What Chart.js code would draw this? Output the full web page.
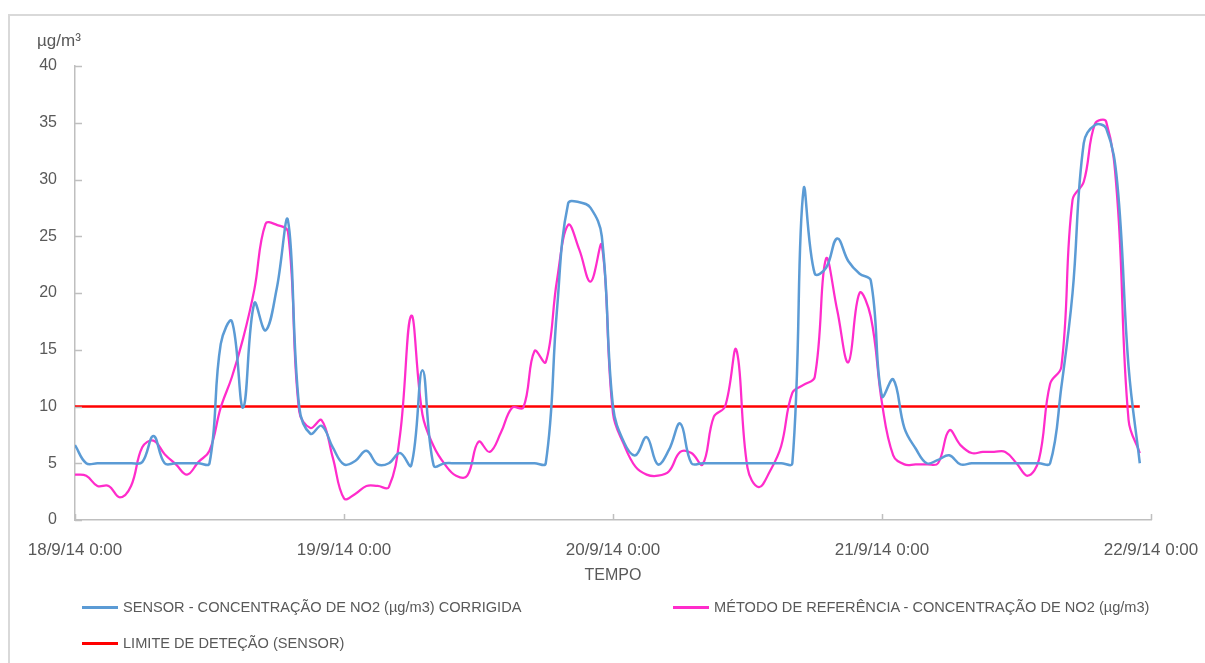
<!DOCTYPE html>
<html>
<head>
<meta charset="utf-8">
<script src="https://cdn.jsdelivr.net/npm/chart.js@4.4.1/dist/chart.umd.min.js"></script>
<style>
  html, body { margin: 0; padding: 0; background: #fff; overflow: hidden; }
  body { width: 1205px; height: 663px; position: relative; font-family: 'Liberation Sans', Arial, sans-serif; color: #595959; }
  #frame { position: absolute; left: 8px; top: 14px; width: 1220px; height: 680px; border: 2px solid #d9d9d9; box-sizing: border-box; }
  #chart { position: absolute; left: 0; top: 0; }
  #unit { position: absolute; left: 37px; top: 31px; font-size: 17px; }
  .leg { position: absolute; font-size: 14.6px; white-space: nowrap; }
  .leg span.ln { display: inline-block; width: 36px; height: 0; border-top: 3px solid; vertical-align: middle; margin-right: 5px; position: relative; top: -1px; }
</style>
</head>
<body>
<div id="frame"></div>
<canvas id="chart" width="1205" height="663"></canvas>
<div id="unit">µg/m³</div>
<div id="legend"></div>
<script>
    // etiquetas do eixo X (um por dia, dados horários)
    const dayLabels = ['18/9/14 0:00', '19/9/14 0:00', '20/9/14 0:00', '21/9/14 0:00', '22/9/14 0:00'];

    // sensor NO2 corrigido (µg/m3), 18/9 0h ... 21/9 23h
    const sensorValues = [
        6.6, 5, 5, 5, 5, 5, 5.1, 7.4, 5, 5, 5, 5, 5, 15.5, 17.5, 9.9, 19.1, 16.7, 20.4, 26.4, 10, 7.6, 8.3, 6.4,
        4.9, 5.2, 6.1, 4.9, 5, 5.9, 4.8, 13.2, 4.8, 5, 5, 5, 5, 5, 5, 5, 5, 5, 5, 18.5, 27.9, 28, 27.5, 25,
        10, 6.8, 5.7, 7.3, 4.9, 6.2, 8.5, 5, 5, 5, 5, 5, 5, 5, 5, 5, 5, 29.1, 21.7, 22.2, 24.8, 22.8, 21.7, 21.1,
        10.9, 12.4, 8.1, 6.3, 5, 5.3, 5.7, 4.9, 5, 5, 5, 5, 5, 5, 5, 5, 11.7, 20, 33.2, 34.8, 34.5, 29.6, 13.5, 5
    ];

    // método de referência NO2 (µg/m3)
    const referenceValues = [
        4, 3.9, 3, 3, 2, 3, 6.4, 7, 5.8, 4.9, 4, 5.1, 6.1, 9.9, 12.6, 16, 20.3, 26.1, 26, 25.4, 9.6, 8.1, 8.8, 5.5,
        1.9, 2.3, 3, 3, 2.9, 7.5, 18, 9.3, 6.5, 4.9, 3.9, 3.9, 6.9, 6, 7.7, 9.9, 9.9, 14.9, 13.9, 21.1, 26, 23.8, 21, 24.2,
        9.4, 6.6, 4.7, 4, 3.9, 4.3, 6, 5.9, 4.9, 9.1, 10, 15, 4.6, 2.9, 4.3, 6.5, 11.2, 11.9, 12.6, 23, 18.5, 13.9, 20, 17.9,
        10.3, 5.7, 4.9, 4.9, 4.9, 5, 7.9, 6.6, 5.9, 6, 6, 6, 5, 3.9, 5.3, 12, 13.5, 28.2, 29.8, 34.9, 35.1, 28.2, 8.8, 5.9
    ];

    // limite de deteção do sensor
    const detectionLimit = 10;

    const seriesLabels = [
        'SENSOR - CONCENTRAÇÃO DE NO2 (µg/m3) CORRIGIDA',
        'MÉTODO DE REFERÊNCIA  - CONCENTRAÇÃO DE NO2 (µg/m3)',
        'LIMITE DE DETEÇÃO (SENSOR)'
    ];

    const yTicks = [0, 5, 10, 15, 20, 25, 30, 35, 40];

    const toPoints = arr => arr.map((v, i) => ({ x: i, y: v }));
    const limitValues = sensorValues.map(() => detectionLimit);

    // marcas de escala para dentro (estilo Excel)
    const insideTicks = {
        id: 'insideTicks',
        afterDraw(chart) {
            const ctx = chart.ctx;
            const xs = chart.scales.x, ys = chart.scales.y;
            const area = chart.chartArea;
            ctx.save();
            ctx.strokeStyle = '#bfbfbf';
            ctx.lineWidth = 1.5;
            ctx.beginPath();
            xs.ticks.forEach(t => {
                const px = Math.round(xs.getPixelForValue(t.value)) + 0.5;
                ctx.moveTo(px, area.bottom);
                ctx.lineTo(px, area.bottom - 6);
            });
            ys.ticks.forEach(t => {
                const py = Math.round(ys.getPixelForValue(t.value)) + 0.5;
                ctx.moveTo(area.left, py);
                ctx.lineTo(area.left + 7, py);
            });
            ctx.stroke();
            ctx.restore();
        }
    };

    const chart = new Chart(document.getElementById('chart'), {
        type: 'line',
        data: {
            datasets: [{
                label: seriesLabels[0],
                data: toPoints(sensorValues),
                borderColor: '#5b9bd5',
                borderWidth: 2.5,
                tension: 0.4,
                pointRadius: 0
            }, {
                label: seriesLabels[1],
                data: toPoints(referenceValues),
                borderColor: '#ff2ccb',
                borderWidth: 2.25,
                tension: 0.4,
                pointRadius: 0
            }, {
                label: seriesLabels[2],
                data: toPoints(limitValues),
                borderColor: '#ff0000',
                borderWidth: 2.5,
                pointRadius: 0
            }]
        },
        options: {
            responsive: false,
            animation: false,
            layout: { padding: { top: 66, right: 54, left: 0, bottom: 0 } },
            plugins: { legend: { display: false }, tooltip: { enabled: false } },
            scales: {
                x: {
                    type: 'linear',
                    min: 0,
                    max: 96,
                    grid: { display: false, drawTicks: false },
                    border: { display: true, color: '#bfbfbf', width: 1.5 },
                    afterBuildTicks: scale => { scale.ticks = dayLabels.map((d, i) => ({ value: i * 24 })); },
                    afterFit: scale => {
                        scale.height = 143;
                        scale.paddingLeft = 0;
                        scale.paddingRight = 0;
                    },
                    ticks: {
                        autoSkip: false,
                        maxRotation: 0,
                        padding: 20,
                        color: '#595959',
                        font: { family: 'Liberation Sans', size: 17 },
                        callback: v => dayLabels[v / 24]
                    },
                    title: {
                        display: true,
                        text: 'TEMPO',
                        color: '#595959',
                        font: { family: 'Liberation Sans', size: 16 },
                        padding: { top: 0, bottom: 78 }
                    }
                },
                y: {
                    min: 0,
                    max: 40,
                    grid: { display: false, drawTicks: false },
                    border: { display: true, color: '#bfbfbf', width: 1.5 },
                    afterBuildTicks: scale => { scale.ticks = yTicks.map(v => ({ value: v })); },
                    afterFit: scale => { scale.width = 75; },
                    ticks: {
                        padding: 18,
                        color: '#595959',
                        font: { family: 'Liberation Sans', size: 16 }
                    }
                }
            }
        },
        plugins: [insideTicks]
    });

    // legenda em HTML (posições como no original)
    const legendPos = [[82, 599], [673, 599], [82, 635]];
    const legend = document.getElementById('legend');
    chart.data.datasets.forEach((ds, i) => {
        const item = document.createElement('div');
        item.className = 'leg';
        item.style.left = legendPos[i][0] + 'px';
        item.style.top = legendPos[i][1] + 'px';
        item.innerHTML = '<span class="ln" style="border-color:' + ds.borderColor + '"></span>' + ds.label;
        legend.appendChild(item);
    });
</script>
</body>
</html>
